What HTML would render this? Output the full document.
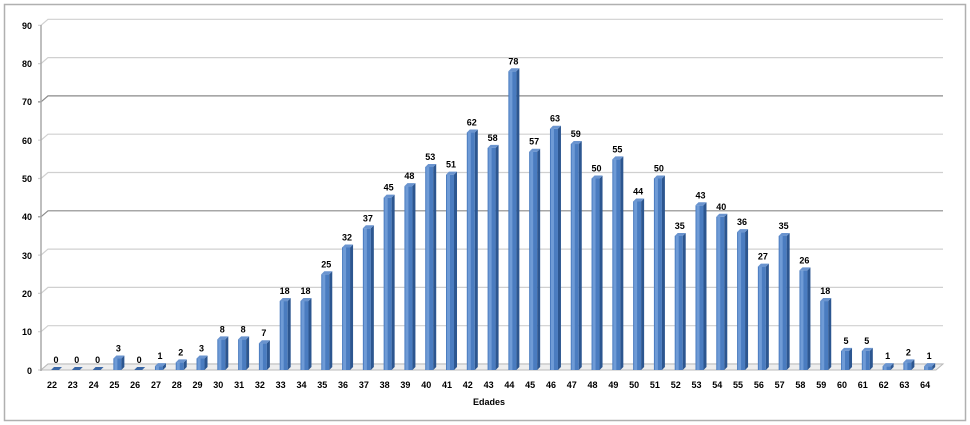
<!DOCTYPE html>
<html><head><meta charset="utf-8"><style>
html,body{margin:0;padding:0;background:#fff;width:970px;height:425px;overflow:hidden}
svg text{font-family:"Liberation Sans",sans-serif;font-weight:bold;font-size:9px;fill:#000}
</style></head><body>
<svg id="s" width="970" height="425" xmlns="http://www.w3.org/2000/svg">
<rect x="4.5" y="4.5" width="961" height="416" fill="#fff" stroke="#b0b0b0" stroke-width="1.5"/>
<g id="grid"></g>
<line x1="41" y1="25" x2="41" y2="371" stroke="#aaa" stroke-width="1.5"/>
<g text-anchor="end">
<text x="32" y="29">90</text><text x="32" y="67">80</text><text x="32" y="105">70</text><text x="32" y="144">60</text><text x="32" y="182">50</text><text x="32" y="220">40</text><text x="32" y="259">30</text><text x="32" y="297">20</text><text x="32" y="335">10</text><text x="32" y="374">0</text>
</g>
<g id="bars"></g>
<g id="vals" text-anchor="middle">
<text>0</text><text>0</text><text>0</text><text>3</text><text>0</text><text>1</text><text>2</text><text>3</text><text>8</text><text>8</text><text>7</text><text>18</text><text>18</text><text>25</text><text>32</text><text>37</text><text>45</text><text>48</text><text>53</text><text>51</text><text>62</text><text>58</text><text>78</text><text>57</text><text>63</text><text>59</text><text>50</text><text>55</text><text>44</text><text>50</text><text>35</text><text>43</text><text>40</text><text>36</text><text>27</text><text>35</text><text>26</text><text>18</text><text>5</text><text>5</text><text>1</text><text>2</text><text>1</text>
</g>
<g id="cats" text-anchor="middle">
<text>22</text><text>23</text><text>24</text><text>25</text><text>26</text><text>27</text><text>28</text><text>29</text><text>30</text><text>31</text><text>32</text><text>33</text><text>34</text><text>35</text><text>36</text><text>37</text><text>38</text><text>39</text><text>40</text><text>41</text><text>42</text><text>43</text><text>44</text><text>45</text><text>46</text><text>47</text><text>48</text><text>49</text><text>50</text><text>51</text><text>52</text><text>53</text><text>54</text><text>55</text><text>56</text><text>57</text><text>58</text><text>59</text><text>60</text><text>61</text><text>62</text><text>63</text><text>64</text>
</g>
<text x="489" y="405" text-anchor="middle">Edades</text>
</svg>
<script>
var d=[0,0,0,3,0,1,2,3,8,8,7,18,18,25,32,37,45,48,53,51,62,58,78,57,63,59,50,55,44,50,35,43,40,36,27,35,26,18,5,5,1,2,1];
var ns="http://www.w3.org/2000/svg",g=document.getElementById('grid'),b=document.getElementById('bars');
function el(p,t,a){var e=document.createElementNS(ns,t);for(var k in a)e.setAttribute(k,a[k]);p.appendChild(e);return e;}
var s=3.83,st=20.79;
for(var v=0;v<=90;v+=10){var y=370-v*s;var c=(v==40||v==70)?'#8a8a8a':'#d0d0d0';
el(g,'polyline',{points:'38,'+y+' 41,'+y+' 48,'+(y-6)+' 943,'+(y-6),fill:'none',stroke:c,'stroke-width':1.2});}
el(g,'polygon',{points:'41,370 48,364 943,364 936,370',fill:'#eee',stroke:'#bbb','stroke-width':1});
var vt=document.getElementById('vals').children,ct=document.getElementById('cats').children;
d.forEach(function(v,i){var lx=52+st*i,cx=lx+3,h=v*s,x=cx-4,y=370-h;
ct[i].setAttribute('x',lx);ct[i].setAttribute('y',388);
vt[i].setAttribute('x',cx+1);vt[i].setAttribute('y',(v==0?363:y-7));
if(v==0){el(b,'polygon',{points:(x)+',370 '+(x+3)+',367 '+(x+11)+',367 '+(x+8)+',370',fill:'#3a67a6'});return;}
el(b,'rect',{x:x,y:y,width:8,height:h,fill:'#4a7cc0'});
el(b,'rect',{x:x+1,y:y,width:3,height:h,fill:'#6f9bd6'});
el(b,'polygon',{points:(x+8)+','+y+' '+(x+11)+','+(y-3)+' '+(x+11)+',367 '+(x+8)+',370',fill:'#2c5690'});
el(b,'polygon',{points:x+','+y+' '+(x+3)+','+(y-3)+' '+(x+11)+','+(y-3)+' '+(x+8)+','+y,fill:'#6a94cf'});});
</script>
</body></html>
